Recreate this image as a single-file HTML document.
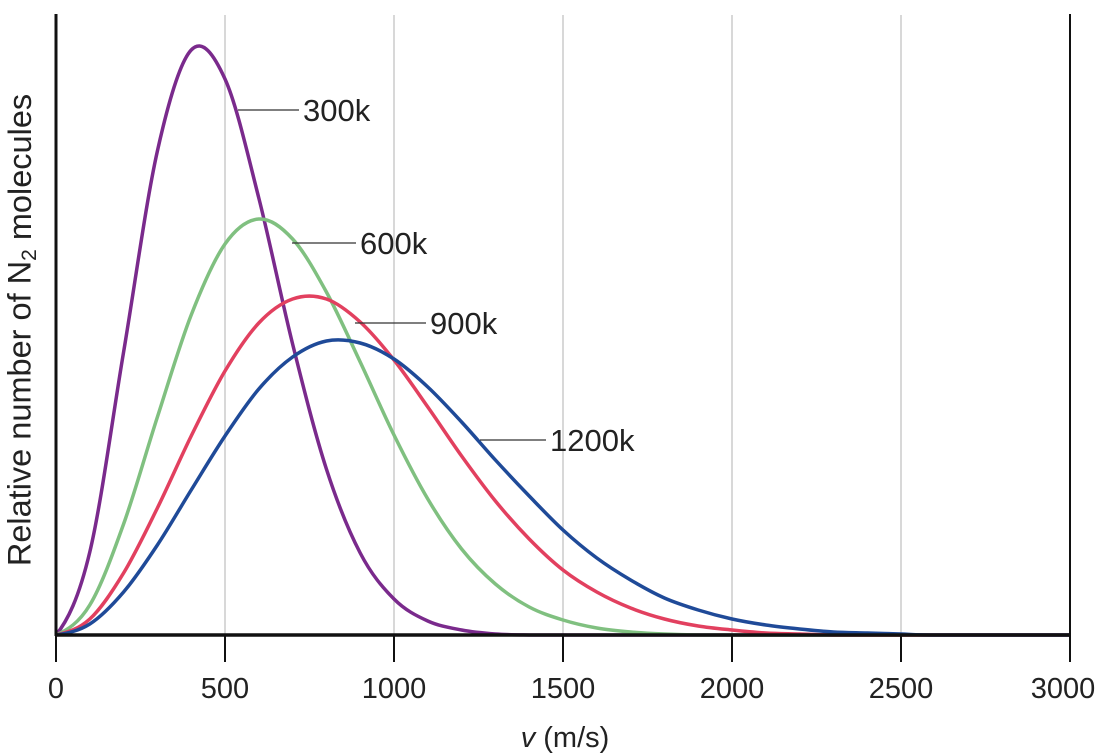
<!DOCTYPE html>
<html><head><meta charset="utf-8"><style>
html,body{margin:0;padding:0;background:#fff;}
svg{display:block;font-family:"Liberation Sans",Arial,sans-serif;}
</style></head><body>
<svg id="chart" width="1099" height="753" viewBox="0 0 1099 753">
<g id="grid"></g>
<g id="curves"></g>
<g id="axes"></g>
<g id="labels"></g>
<text x="22" y="330" transform="rotate(-90 22 330)" text-anchor="middle" dominant-baseline="middle" font-size="32.5" fill="#222">Relative number of N<tspan font-size="21" dy="8">2</tspan><tspan dy="-8"> molecules</tspan></text>
<text x="565" y="747" text-anchor="middle" font-size="29" fill="#222"><tspan font-style="italic">v</tspan> (m/s)</text>
</svg>
<script>
const speeds = [0,100,200,300,400,500,600,700,800,900,1000,1100,1200,1300,1400,1500,1600,1700,1800,1900,2000,2100,2200,2300,2400,2500,2600,3000];
const s300 = [0,83,283,484,585,556,437,291,166,82,36,14,5,1,0,0,0,0,0,0,0,0,0,0,0,0,0,0];
const s600 = [0,30,111,218,320,391,416,396,343,273,200,136,86,51,28,15,7,3,1,0,0,0,0,0,0,0,0,0];
const s900 = [0,16,62,127,199,264,312,336,336,313,275,228,179,134,96,65,43,27,16,9,5,2,1,0,0,0,0,0];
const s1200 = [0,11,43,90,145,199,246,278,294,292,276,248,213,175,139,105,77,55,37,25,16,10,6,3,2,1,0,0];
const xTicks = [0,500,1000,1500,2000,2500,3000];
const seriesNames = ["300k","600k","900k","1200k"];
const seriesColors = ["#7a2a8c","#80c080","#e2405f","#1f4a98"];
const labelAt = [[303,110,238],[360,243,292],[430,323,355],[550,440,480]];

const X0=56,X1=1070,Y0=635;
const xs = v => X0 + v/3000*(X1-X0);
const ys = val => Y0 - val;
const NS="http://www.w3.org/2000/svg";
function mk(tag, attrs, parent){const e=document.createElementNS(NS,tag);for(const k in attrs)e.setAttribute(k,attrs[k]);parent.appendChild(e);return e;}

const grid=document.getElementById('grid');
xTicks.forEach(t=>{
  if(t>0&&t<3000){const l=mk('line',{x1:xs(t),x2:xs(t),y1:15,y2:Y0,stroke:'#d8d8d8','stroke-width':2},grid);
  
  }
});
const curves=document.getElementById('curves');
[s300,s600,s900,s1200].forEach((arr,i)=>{
  const pts=speeds.map((v,j)=>[xs(v),ys(arr[j])]);
  let d='M'+pts[0][0]+','+pts[0][1];
  for(let j=0;j<pts.length-1;j++){
    const p0=j===0?[2*pts[0][0]-pts[1][0],pts[0][1]]:pts[j-1],p1=pts[j],p2=pts[j+1],p3=pts[Math.min(pts.length-1,j+2)];
    const c1=[p1[0]+(p2[0]-p0[0])/6,p1[1]+(p2[1]-p0[1])/6];
    const c2=[p2[0]-(p3[0]-p1[0])/6,p2[1]-(p3[1]-p1[1])/6];
    d+=' C'+c1[0]+','+Math.min(Y0,c1[1])+' '+c2[0]+','+Math.min(Y0,c2[1])+' '+p2[0]+','+p2[1];
  }
  const p=mk('path',{d:d,fill:'none',stroke:seriesColors[i],'stroke-width':3.5,'stroke-linejoin':'round'},curves);
  
  
});
const axes=document.getElementById('axes');
const la=mk('line',{x1:X0,x2:X0,y1:14,y2:Y0+1,stroke:'#111','stroke-width':3},axes);


const ra=mk('line',{x1:X1,x2:X1,y1:14,y2:Y0+1,stroke:'#111','stroke-width':2},axes);


const ba=mk('line',{x1:X0-1,x2:X1+1,y1:Y0,y2:Y0,stroke:'#111','stroke-width':3.5},axes);


xTicks.forEach(t=>{
  const tk=mk('line',{x1:xs(t),x2:xs(t),y1:Y0,y2:Y0+27,stroke:'#111','stroke-width':2},axes);
  
  
  const tx=mk('text',{x:Math.min(xs(t),1063),y:698,'text-anchor':'middle','font-size':29,fill:'#222'},axes);
  tx.textContent=t;
  
  
});
const labels=document.getElementById('labels');
seriesNames.forEach((n,i)=>{
  const [lx,ly,sx]=labelAt[i];
  const ln=mk('line',{x1:sx,x2:lx-4,y1:ly,y2:ly,stroke:'#333','stroke-width':1.3},labels);
  
  
  const t=mk('text',{x:lx,y:ly+11,'font-size':31,fill:'#222'},labels);
  t.textContent=n;
  
  
});
</script>
</body></html>
